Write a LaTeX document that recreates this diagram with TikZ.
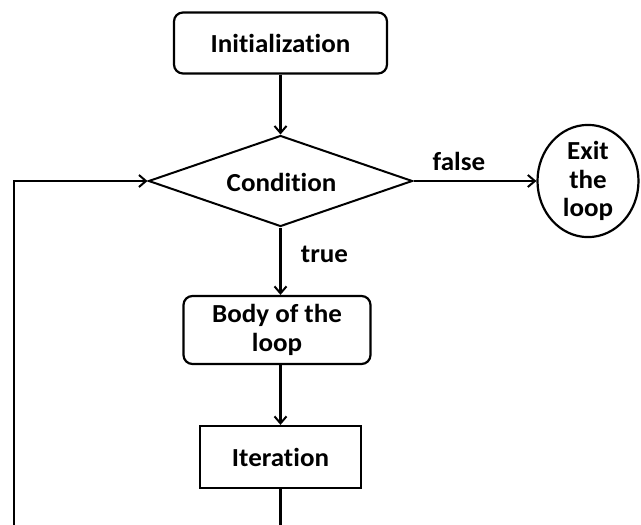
\documentclass[tikz,border=0pt]{standalone}
\usepackage{fontspec}
\setmainfont{Carlito}[Ligatures=NoCommon, FakeStretch=1.04]
\usetikzlibrary{arrows.meta,shapes.geometric}
\begin{document}
\begin{tikzpicture}[x=1pt,y=-1pt,
  every node/.style={font=\bfseries\fontsize{26}{28.5}\selectfont, align=center},
  flow/.style={line width=2.2pt, -{Straight Barb[length=7pt,width=12pt,line width=2pt]}},
  plain/.style={line width=2.2pt},
  roundbox/.style={draw, line width=2.2pt, rounded corners=9pt, inner sep=0pt},
  sqbox/.style={draw, line width=2.2pt, inner sep=0pt},
  decision/.style={draw, line width=2pt, diamond, inner sep=0pt, aspect=2.9, minimum width=264pt, minimum height=91pt},
  endcircle/.style={draw, line width=2.2pt, ellipse, inner sep=0pt, minimum width=101pt, minimum height=98pt},
  lbl/.style={font=\bfseries\fontsize{26}{28}\selectfont}]
  \useasboundingbox (0,0) rectangle (641,525);
  \clip (0,0) rectangle (641,525);

  \node[roundbox, minimum width=213pt, minimum height=61pt] (init) at (280.5,43) {Initialization};
  \node[decision] (cond) at (280.5,181) {};
  \node at (281.5,182) {Condition};
  \node[endcircle] (exit) at (588,181) {Exit\\the\\loop};
  \node[roundbox, minimum width=187pt, minimum height=68pt] (body) at (277,330) {Body of the\\loop};
  \node[sqbox, minimum width=161pt, minimum height=62pt] (iter) at (280.5,457) {Iteration};

  \coordinate (bottom) at (280.5,540);
  \coordinate (leftlow) at (14,540);
  \coordinate (leftup) at (14,181);

  \draw[flow] (init.south) -- (cond.north);
  \draw[flow] (cond.east) -- node[lbl, above=6pt, pos=0.37] {false} (exit.west);
  \draw[flow] (cond.south) -- node[lbl, right=16pt, pos=0.4] {true} (cond.south |- body.north);
  \draw[flow] (body.south -| iter.north) -- (iter.north);
  \draw[plain] (iter.south) -- (bottom);
  \draw[flow] (leftlow) -- (leftup) -- (cond.west);
\end{tikzpicture}
\end{document}
